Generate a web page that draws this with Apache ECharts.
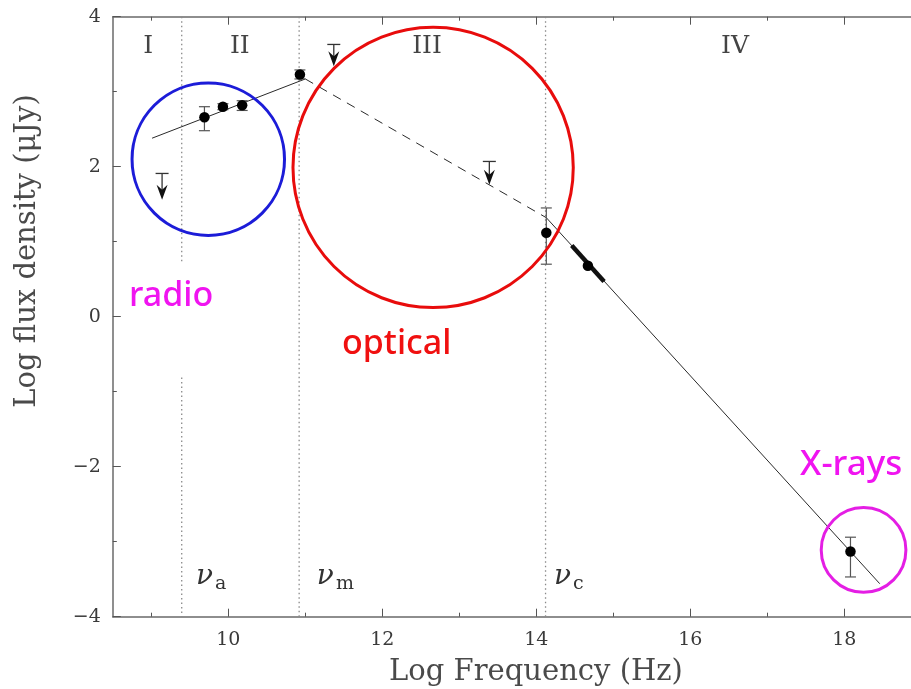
<!DOCTYPE html>
<html><head><meta charset="utf-8">
<script src="https://cdn.jsdelivr.net/npm/echarts@6/dist/echarts.min.js"></script>
<style>html,body{margin:0;padding:0;background:#fff}#c{width:911px;height:689px}</style>
</head><body><div id="c"></div><script>
// ---- data ----
const xMajor = [10, 12, 14, 16, 18];
const xMinor = [9, 11, 13, 15, 17];
const yTicks = [-4, -2, 0, 2, 4];

// detections: log nu, log flux, error low, error high
const detX  = [9.69, 9.93, 10.18, 10.93, 14.13, 14.67, 18.08];
const detY  = [2.66, 2.80, 2.82, 3.23, 1.12, 0.68, -3.13];
const errLo = [2.48, 2.76, 2.75, 3.17, 0.70, 0.68, -3.47];
const errHi = [2.80, 2.84, 2.88, 3.29, 1.45, 0.68, -2.94];

// upper limits: log nu, limit, arrow tip
const ulX   = [9.14, 11.37, 13.39];
const ulY   = [1.91, 3.63, 2.07];
const ulTip = [1.56, 3.34, 1.76];

// broken power-law model
const riseX = [9.01, 11.0],   riseY = [2.38, 3.17];
const dashX = [11.0, 14.13],  dashY = [3.17, 1.32];
const fallX = [14.13, 18.46], fallY = [1.32, -3.56];
const optX  = [14.46, 14.88], optY  = [0.95, 0.47];

// break frequencies
const nuA = 9.395, nuM = 10.92, nuC = 14.12;
const nuAGap = [0.73, -0.81];

// regime labels
const regNames = ['I', 'II', 'III', 'IV'];
const regX = [8.96, 10.15, 12.58, 16.58];
const regY = 3.6;

// break labels
const brkSub = ['a', 'm', 'c'];
const brkX = [9.58, 11.15, 14.23];
const brkY = -3.47;

// highlight circles
const circX = [9.74, 12.66, 18.25];
const circY = [2.10, 1.99, -3.11];
const circR = [0.99, 1.82, 0.55];
const circCol = ['#1c1cd8', '#e80c0c', '#e41ee4'];

const serif = '"DejaVu Serif", serif';
const comic = '"Noto Sans", sans-serif';
const chart = echarts.init(document.getElementById('c'));

function segs(xs, ys){ return xs.map((x,i)=>[x, ys[i]]); }

const axisBase = {
  type: 'value', min: 8.5, max: 18.866, splitLine: {show:false},
  axisLine: {onZero: false, lineStyle: {color: '#6a6a6a', width: 1.5}}
};

const option = {
  animation: false,
  backgroundColor: '#fff',
  grid: {left: 112.8, top: 16.7, right: 0, height: 600, containLabel: false},
  xAxis: [
    Object.assign({}, axisBase, {position: 'bottom',
      axisTick: {inside: true, length: 8, customValues: xMajor, lineStyle: {color: '#555'}},
      axisLabel: {customValues: xMajor, margin: 14, fontFamily: serif, fontSize: 19, color: '#3a3a3a'}}),
    Object.assign({}, axisBase, {position: 'bottom', axisLine: {show:false, onZero: false},
      axisTick: {inside: true, length: 4, customValues: xMinor, lineStyle: {color: '#555'}},
      axisLabel: {show: false}}),
    Object.assign({}, axisBase, {position: 'top',
      axisTick: {inside: true, length: 8, customValues: xMajor, lineStyle: {color: '#555'}},
      axisLabel: {show: false}}),
    Object.assign({}, axisBase, {position: 'top', axisLine: {show:false, onZero: false},
      axisTick: {inside: true, length: 4, customValues: xMinor, lineStyle: {color: '#555'}},
      axisLabel: {show: false}})
  ],
  yAxis: [{
    type: 'value', min: -4, max: 4, interval: 2, position: 'left',
    splitLine: {show: false},
    axisLine: {show: true, onZero: false, lineStyle: {color: '#6a6a6a', width: 1.5}},
    axisTick: {inside: true, length: 8, lineStyle: {color: '#555'}},
    minorTick: {show: true, splitNumber: 2, length: 4, lineStyle: {color: '#555'}},
    axisLabel: {margin: 12, fontFamily: serif, fontSize: 19, color: '#3a3a3a',
      formatter: v => (v < 0 ? '\u2212' + Math.abs(v) : String(v))}
  }],
  series: [
    { // break frequency dotted lines
      type: 'custom', silent: true, z: 1,
      data: [[nuA, 4, nuAGap[0]], [nuA, nuAGap[1], -4], [nuM, 4, -4], [nuC, 4, -4]],
      encode: {x: 0, y: [1, 2]},
      renderItem: (p, api) => {
        const a = api.coord([api.value(0), api.value(1)]);
        const b = api.coord([api.value(0), api.value(2)]);
        return {type: 'line', shape: {x1: a[0], y1: a[1], x2: b[0], y2: b[1]},
          style: {stroke: '#8a8a8a', lineWidth: 1.3, lineDash: [1.5, 3]}};
      }
    },
    {type: 'line', data: segs(riseX, riseY), showSymbol: false, symbol: 'none', z: 2,
      lineStyle: {color: '#2a2a2a', width: 1}},
    {type: 'line', data: segs(dashX, dashY), showSymbol: false, symbol: 'none', z: 2,
      lineStyle: {color: '#2a2a2a', width: 1, type: [9, 7]}},
    {type: 'line', data: segs(fallX, fallY), showSymbol: false, symbol: 'none', z: 2,
      lineStyle: {color: '#2a2a2a', width: 1}},
    {type: 'line', data: segs(optX, optY), showSymbol: false, symbol: 'none', z: 3,
      lineStyle: {color: '#111', width: 4.5}},
    { // error bars
      type: 'custom', z: 4,
      data: detX.map((x,i)=>[x, errLo[i], errHi[i]]),
      encode: {x: 0, y: [1, 2]},
      renderItem: (p, api) => {
        const x = api.value(0);
        const a = api.coord([x, api.value(1)]), b = api.coord([x, api.value(2)]);
        if (Math.abs(a[1]-b[1]) < 1) return {type: 'group', children: []};
        const w = 5.5, st = {stroke: '#555', lineWidth: 1.2};
        return {type: 'group', children: [
          {type: 'line', shape: {x1: a[0], y1: a[1], x2: b[0], y2: b[1]}, style: st},
          {type: 'line', shape: {x1: a[0]-w, y1: a[1], x2: a[0]+w, y2: a[1]}, style: st},
          {type: 'line', shape: {x1: b[0]-w, y1: b[1], x2: b[0]+w, y2: b[1]}, style: st}
        ]};
      }
    },
    { // upper limits
      type: 'custom', z: 4,
      data: ulX.map((x,i)=>[x, ulY[i], ulTip[i]]),
      encode: {x: 0, y: [1, 2]},
      renderItem: (p, api) => {
        const x = api.value(0);
        const a = api.coord([x, api.value(1)]), t = api.coord([x, api.value(2)]);
        const st = {stroke: '#333', lineWidth: 1.3};
        return {type: 'group', children: [
          {type: 'line', shape: {x1: a[0]-6.5, y1: a[1], x2: a[0]+6.5, y2: a[1]}, style: st},
          {type: 'line', shape: {x1: a[0], y1: a[1], x2: t[0], y2: t[1]-8}, style: st},
          {type: 'polygon', shape: {points: [[t[0], t[1]], [t[0]-5.5, t[1]-15], [t[0], t[1]-10], [t[0]+5.5, t[1]-15]]},
            style: {fill: '#111'}}
        ]};
      }
    },
    {type: 'scatter', data: segs(detX, detY), symbol: 'circle', symbolSize: 10.5, z: 5,
      itemStyle: {color: '#000', opacity: 1}},
    { // highlight circles
      type: 'custom', z: 6, silent: true,
      data: circX.map((x,i)=>[x, circY[i], circR[i], i]),
      encode: {x: 0, y: 1},
      renderItem: (p, api) => {
        const c = api.coord([api.value(0), api.value(1)]);
        const r = api.size([api.value(2), 0])[0];
        return {type: 'circle', shape: {cx: c[0], cy: c[1], r: r},
          style: {fill: 'none', stroke: circCol[api.value(3)], lineWidth: 3}};
      }
    },
    { // regime labels
      type: 'custom', z: 7, silent: true,
      data: regNames.map((n,i)=>[regX[i], regY, i]),
      encode: {x: 0, y: 1},
      renderItem: (p, api) => {
        const c = api.coord([api.value(0), api.value(1)]);
        return {type: 'text', x: c[0], y: c[1], style: {text: regNames[api.value(2)],
          font: '25px ' + serif, fill: '#444', align: 'center', verticalAlign: 'middle'}};
      }
    },
    { // break labels
      type: 'custom', z: 7, silent: true,
      data: brkSub.map((n,i)=>[brkX[i], brkY, i]),
      encode: {x: 0, y: 1},
      renderItem: (p, api) => {
        const c = api.coord([api.value(0), api.value(1)]);
        return {type: 'text', x: c[0], y: c[1], style: {
          text: '{n|\u03bd}{s|' + brkSub[api.value(2)] + '}',
          rich: {n: {fontFamily: serif, fontStyle: 'italic', fontSize: 28, fill: '#333', color: '#333'},
                 s: {fontFamily: serif, fontSize: 19, fill: '#333', color: '#333', padding: [14, 0, 0, 2]}},
          fill: '#333', align: 'left', verticalAlign: 'middle'}};
      }
    }
  ],
  graphic: [
    {type: 'text', left: 129, top: 279, style: {text: 'radio', font: '500 34px ' + comic, fill: '#f014f0'}},
    {type: 'text', left: 342, top: 327, style: {text: 'optical', font: '500 34px ' + comic, fill: '#f01010'}},
    {type: 'text', left: 800, top: 448, style: {text: 'X-rays', font: '500 35px ' + comic, fill: '#f014f0'}},
    {type: 'text', x: 536, y: 672, style: {text: 'Log Frequency (Hz)', font: '29px ' + serif, fill: '#4a4a4a',
      align: 'center', verticalAlign: 'middle'}},
    {type: 'text', x: 27, y: 251, rotation: Math.PI/2, style: {text: 'Log flux density (\u03bcJy)', font: '29px ' + serif, fill: '#4a4a4a',
      align: 'center', verticalAlign: 'middle'}}
  ]
};
chart.setOption(option);
</script></body></html>
